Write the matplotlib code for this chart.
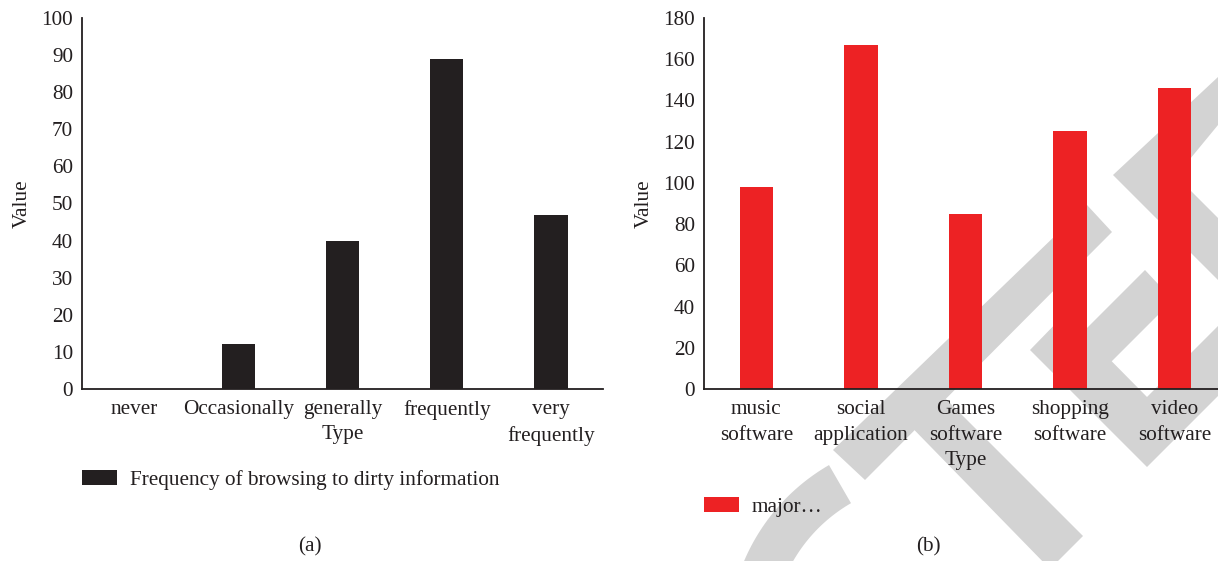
import numpy as np
import matplotlib
matplotlib.use("Agg")
import matplotlib.pyplot as plt
from matplotlib.patches import Polygon

# ---------------- data ----------------
freq_categories = ['never', 'Occasionally', 'generally', 'frequently', 'very\nfrequently']
freq_values = [0, 12, 40, 89, 47]
freq_label = 'Frequency of browsing to dirty information'

soft_categories = ['music\nsoftware', 'social\napplication', 'Games\nsoftware',
                   'shopping\nsoftware', 'video\nsoftware']
soft_values = [98, 167, 85, 125, 146]
soft_label = 'major\u2026'

left_yticks = list(range(0, 101, 10))
right_yticks = list(range(0, 181, 20))

# ---------------- style ----------------
W, H = 1218, 561
DPI = 100
TXT = '#231f20'
BLACK = '#231f20'
RED = '#ed2224'
GREY = '#d3d3d3'
FS = 15.3
plt.rcParams['font.family'] = ['Liberation Serif', 'DejaVu Serif']
plt.rcParams['text.color'] = TXT

fig = plt.figure(figsize=(W / DPI, H / DPI), dpi=DPI)

# ---------- background watermark (decoration, pixel coords) ----------
bg = fig.add_axes([0, 0, 1, 1], zorder=0)
bg.set_xlim(0, W)
bg.set_ylim(H, 0)
bg.axis('off')
shapes = [
    [(833, 450), (865, 480), (1112, 232), (1087, 205)],
    [(925, 378), (1083, 536), (1050, 569), (890, 405)],
    [(1218, 77), (1113, 175), (1218, 280), (1218, 218), (1176, 176), (1218, 125)],
    [(1145, 270), (1173, 300), (1100, 373), (1072, 343)],
    [(1030, 350), (1147, 467), (1218, 396), (1218, 326), (1147, 397), (1065, 314)],
]
for s in shapes:
    bg.add_patch(Polygon(s, closed=True, facecolor=GREY, edgecolor='none'))
th = np.radians(np.linspace(120, 190, 60))
cx, cy, ro, ri = 930, 640, 202, 158
arc = [(cx + ro * np.cos(t), cy - ro * np.sin(t)) for t in th] + \
      [(cx + ri * np.cos(t), cy - ri * np.sin(t)) for t in th[::-1]]
bg.add_patch(Polygon(arc, closed=True, facecolor=GREY, edgecolor='none'))

# ---------- axes ----------
ax_bottom = (H - 389) / H
ax_height = 371 / H
axL = fig.add_axes([82 / W, ax_bottom, 521 / W, ax_height], zorder=1)
axR = fig.add_axes([704 / W, ax_bottom, 523 / W, ax_height], zorder=1)


def style(ax, cats, vals, color, yticks, label, type_off, leg_y):
    ax.set_facecolor('none')
    x = np.arange(len(cats))
    ax.bar(x, vals, width=0.32, color=color, label=label, zorder=2)
    ax.set_xlim(-0.5, len(cats) - 0.5)
    ax.set_ylim(yticks[0], yticks[-1])
    ax.set_yticks(yticks)
    ax.set_xticks(x)
    ax.set_xticklabels(cats, fontsize=FS, linespacing=1.47, color=TXT)
    ax.tick_params(axis='both', length=0, labelsize=FS, colors=TXT)
    ax.tick_params(axis='x', pad=8)
    ax.tick_params(axis='y', pad=6.5)
    for s in ('top', 'right'):
        ax.spines[s].set_visible(False)
    for s in ('left', 'bottom'):
        ax.spines[s].set_color(TXT)
        ax.spines[s].set_linewidth(1.3)
    ax.set_ylabel('Value', fontsize=FS, color=TXT, labelpad=7)
    ax.annotate('Type', xy=(0.5, 0), xycoords='axes fraction',
                xytext=(0, -type_off), textcoords='offset pixels',
                ha='center', va='center', fontsize=FS, color=TXT)
    ax.legend(loc='center left', bbox_to_anchor=(0, leg_y), frameon=False,
              fontsize=FS, handlelength=1.65, handleheight=0.7,
              handletextpad=0.6, borderpad=0, borderaxespad=0)


style(axL, freq_categories, freq_values, BLACK, left_yticks, freq_label, 45,
      (389 - 480) / 371)
style(axR, soft_categories, soft_values, RED, right_yticks, soft_label, 71,
      (389 - 507) / 371)

fig.text(310 / W, 1 - 547 / H, '(a)', ha='center', va='center', fontsize=FS, color=TXT)
fig.text(928 / W, 1 - 547 / H, '(b)', ha='center', va='center', fontsize=FS, color=TXT)

fig.savefig('out.png', dpi=DPI)
